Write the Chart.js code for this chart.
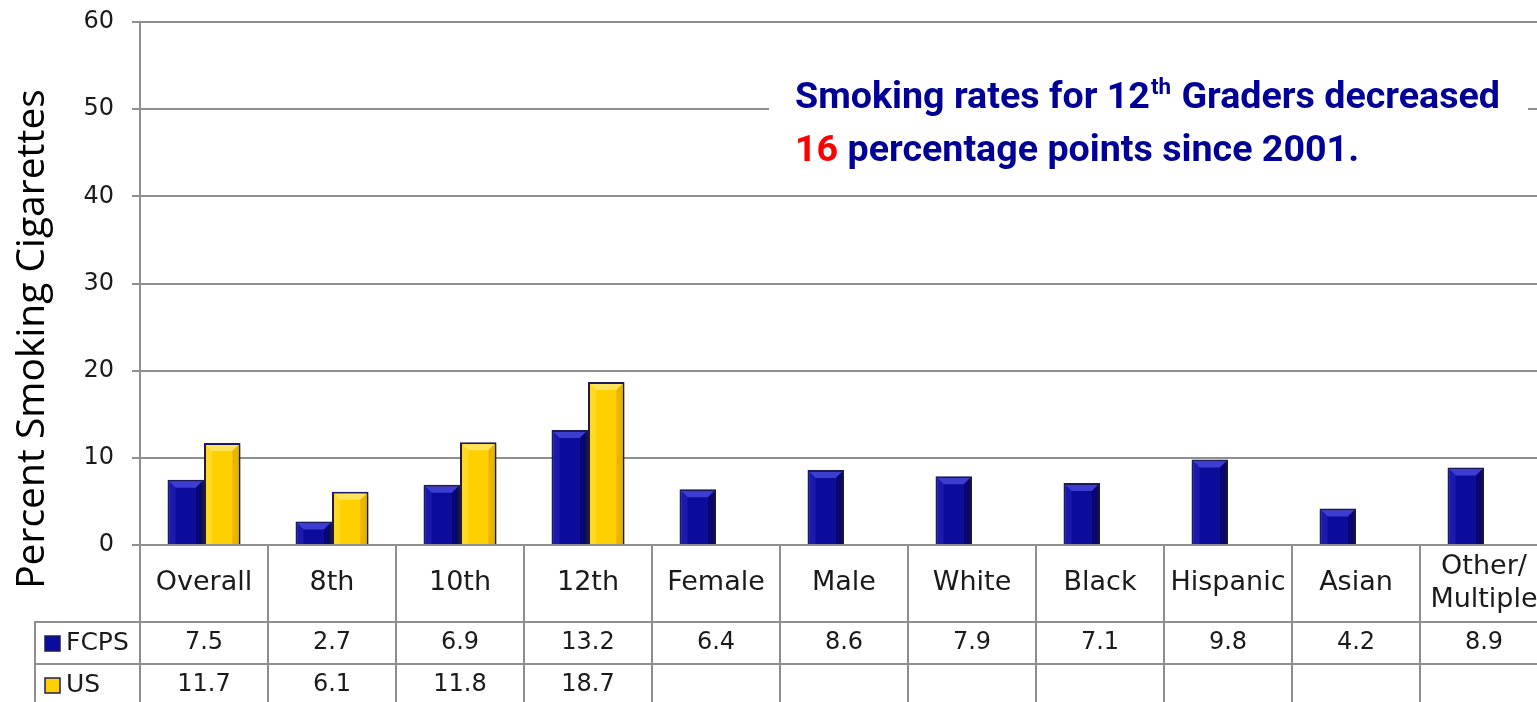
<!DOCTYPE html>
<html>
<head>
<meta charset="utf-8">
<script src="https://cdn.jsdelivr.net/npm/chart.js@4.4.1/dist/chart.umd.min.js"></script>
<style>
  html, body { margin: 0; padding: 0; background: #fff; overflow: hidden; }
  canvas { display: block; }
</style>
</head>
<body>
<canvas id="smokeChart" width="1548" height="702"></canvas>
<script>
// data
const categories = ['Overall', '8th', '10th', '12th', 'Female', 'Male', 'White', 'Black', 'Hispanic', 'Asian', ['Other/', 'Multiple']];
const fcpsValues = [7.5, 2.7, 6.9, 13.2, 6.4, 8.6, 7.9, 7.1, 9.8, 4.2, 8.9];
const usValues = [11.7, 6.1, 11.8, 18.7, null, null, null, null, null, null, null];
const seriesNames = ['FCPS', 'US'];
const yMin = 0, yMax = 60, yStep = 10;
const yTitle = 'Percent Smoking Cigarettes';

const LABEL_FONT = '"DejaVu Sans", Lato, sans-serif';
const NOTE_FONT = 'Roboto, "Liberation Sans", sans-serif';
const GRID = '#8f8f8f';
const TEXT = '#1a1a1a';
const BLUE = '#0c0c9c';
const YELLOW = '#ffd000';
const EDGE = '#1c1c5e';

const shades = {
  [BLUE]: { top: '#3d3dd2', left: '#1a1aae', right: '#070772' },
  [YELLOW]: { top: '#ffe35a', left: '#ffd926', right: '#e8b400' }
};

// soft drop shadow under the bars, bevel on top of them
const barLook = {
  id: 'barLook',
  beforeDatasetsDraw(chart) {
    const ctx = chart.ctx;
    ctx.save();
    ctx.shadowColor = 'rgba(0,0,0,0.35)';
    ctx.shadowBlur = 4;
    ctx.shadowOffsetX = 2;
    ctx.shadowOffsetY = 2;
  },
  afterDatasetsDraw(chart) {
    const ctx = chart.ctx;
    ctx.restore();
    ctx.save();
    chart.data.datasets.forEach((ds, di) => {
      const meta = chart.getDatasetMeta(di);
      const sh = shades[ds.backgroundColor];
      meta.data.forEach((bar, i) => {
        if (ds.data[i] == null) return;
        const p = bar.getProps(['x', 'y', 'base', 'width'], true);
        const l = p.x - p.width / 2 + 2, r = p.x + p.width / 2 - 2;
        const t = p.y + 2, b = p.base;
        const bv = Math.min(6, (b - t) / 2);
        ctx.fillStyle = sh.top;
        ctx.beginPath();
        ctx.moveTo(l, t); ctx.lineTo(r, t); ctx.lineTo(r - bv, t + bv); ctx.lineTo(l + bv, t + bv);
        ctx.closePath(); ctx.fill();
        ctx.fillStyle = sh.left;
        ctx.beginPath();
        ctx.moveTo(l, t); ctx.lineTo(l + bv, t + bv); ctx.lineTo(l + bv, b); ctx.lineTo(l, b);
        ctx.closePath(); ctx.fill();
        ctx.fillStyle = sh.right;
        ctx.beginPath();
        ctx.moveTo(r, t); ctx.lineTo(r - bv, t + bv); ctx.lineTo(r - bv, b); ctx.lineTo(r, b);
        ctx.closePath(); ctx.fill();
      });
    });
    ctx.restore();
  }
};

// data table under the plot, plus the y title and the note
const extras = {
  id: 'extras',
  afterDraw(chart) {
    const { ctx, chartArea: a, scales: { x } } = chart;
    const n = categories.length;
    const cw = (a.right - a.left) / n;
    const row1 = 622, row2 = 664, bottom = chart.height, tableLeft = 35;

    ctx.save();
    ctx.strokeStyle = GRID;
    ctx.lineWidth = 2;
    ctx.beginPath();
    for (let i = 0; i <= n; i++) {
      const px = Math.round(a.left + i * cw);
      ctx.moveTo(px, a.bottom); ctx.lineTo(px, bottom);
    }
    ctx.moveTo(tableLeft, row1); ctx.lineTo(a.right, row1);
    ctx.moveTo(tableLeft, row2); ctx.lineTo(a.right, row2);
    ctx.moveTo(tableLeft, row1 - 1); ctx.lineTo(tableLeft, bottom);
    ctx.stroke();

    ctx.fillStyle = TEXT;
    ctx.textAlign = 'center';
    ctx.textBaseline = 'middle';
    categories.forEach((c, i) => {
      const cx = x.getPixelForValue(i);
      ctx.font = '27px ' + LABEL_FONT;
      if (Array.isArray(c)) {
        ctx.fillText(c[0], cx, 567);
        ctx.fillText(c[1], cx, 600);
      } else {
        ctx.fillText(c, cx, 583);
      }
      ctx.font = '24px ' + LABEL_FONT;
      ctx.fillText(fcpsValues[i].toFixed(1), cx, 643);
      if (usValues[i] != null) ctx.fillText(usValues[i].toFixed(1), cx, 685);
    });

    // legend keys
    ctx.font = '25px ' + LABEL_FONT;
    const keys = [[BLUE, 643], [YELLOW, 685]];
    keys.forEach(([col, cy], k) => {
      ctx.fillStyle = col;
      ctx.fillRect(45, cy - 7, 15, 15);
      ctx.strokeStyle = EDGE;
      ctx.lineWidth = 1.5;
      ctx.strokeRect(45, cy - 7, 15, 15);
      ctx.fillStyle = TEXT;
      ctx.textAlign = 'left';
      ctx.fillText(seriesNames[k], 66, cy);
    });

    // y axis title
    ctx.save();
    ctx.translate(44, 339);
    ctx.rotate(-Math.PI / 2);
    ctx.textAlign = 'center';
    ctx.textBaseline = 'alphabetic';
    ctx.fillStyle = '#000';
    ctx.font = '39px "Open Sans", sans-serif';
    ctx.fillText(yTitle, 0, 0);
    ctx.restore();

    // note box, narrow letters like the original condensed face
    ctx.fillStyle = '#fff';
    ctx.fillRect(769, 72, 759, 106);
    const s = 37, ss = 22;
    ctx.font = 'bold ' + s + 'px ' + NOTE_FONT;
    const w1 = ctx.measureText('Smoking rates for 12').width;
    const w3 = ctx.measureText(' Graders decreased').width;
    const w16 = ctx.measureText('16').width;
    ctx.font = 'bold ' + ss + 'px ' + NOTE_FONT;
    const w2 = ctx.measureText('th').width + 2;
    const k = 705 / (w1 + w2 + w3);
    ctx.save();
    ctx.translate(795, 0);
    ctx.scale(k, 1);
    ctx.textAlign = 'left';
    ctx.textBaseline = 'alphabetic';
    ctx.fillStyle = '#000096';
    ctx.font = 'bold ' + s + 'px ' + NOTE_FONT;
    ctx.fillText('Smoking rates for 12', 0, 108);
    ctx.font = 'bold ' + ss + 'px ' + NOTE_FONT;
    ctx.fillText('th', w1 + 1, 94);
    ctx.font = 'bold ' + s + 'px ' + NOTE_FONT;
    ctx.fillText(' Graders decreased', w1 + w2, 108);
    ctx.fillStyle = '#ff0000';
    ctx.fillText('16', 0, 161);
    ctx.fillStyle = '#000096';
    ctx.fillText(' percentage points since 2001.', w16, 161);
    ctx.restore();
    ctx.restore();
  }
};

new Chart(document.getElementById('smokeChart'), {
  type: 'bar',
  data: {
    labels: categories,
    datasets: [
      { label: seriesNames[0], data: fcpsValues, backgroundColor: BLUE, borderColor: EDGE, borderWidth: 2 },
      { label: seriesNames[1], data: usValues, backgroundColor: YELLOW, borderColor: EDGE, borderWidth: 2 }
    ]
  },
  options: {
    responsive: false,
    animation: false,
    layout: { padding: { top: 22, bottom: 157, left: 0, right: 0 } },
    datasets: { bar: { categoryPercentage: 0.57, barPercentage: 1.0 } },
    plugins: { legend: { display: false }, tooltip: { enabled: false } },
    scales: {
      x: { display: false },
      y: {
        min: yMin, max: yMax,
        ticks: { stepSize: yStep, padding: 18, color: TEXT, font: { family: LABEL_FONT, size: 24 } },
        grid: { color: GRID, lineWidth: 2, tickLength: 8 },
        border: { color: GRID, width: 2 },
        afterFit(scale) {
          scale.width = 140;
          scale.paddingTop = 12;
          scale.paddingBottom = 12;
        }
      }
    }
  },
  plugins: [barLook, extras]
});
</script>
</body>
</html>
